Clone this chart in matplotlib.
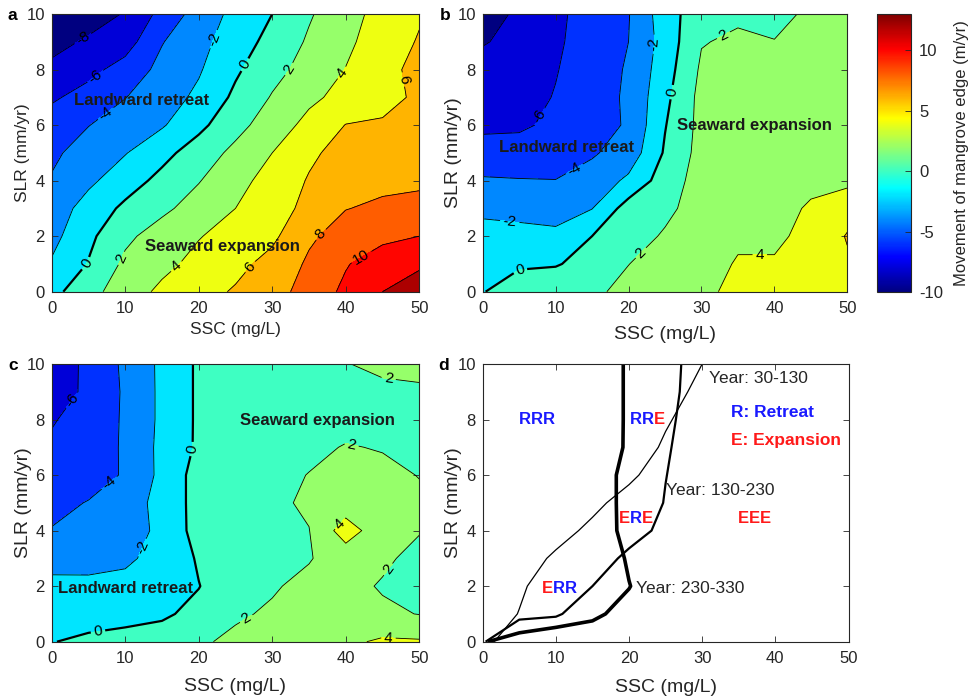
import numpy as np
import matplotlib.pyplot as plt
from matplotlib.colors import Normalize, LinearSegmentedColormap
from matplotlib.cm import ScalarMappable

plt.rcParams['font.family'] = ['Liberation Sans', 'DejaVu Sans']
plt.rcParams['axes.unicode_minus'] = False

# grid: suspended sediment concentration (mg/L) x sea-level rise rate (mm/yr)
ssc = np.arange(0, 55, 5)
slr = np.arange(0, 11, 1)

# movement of mangrove edge (m/yr); rows = SLR 0..10, columns = SSC 0..50
# a: years 30-130
move_a = np.array([
    [-0.6, 1.3, 3.05, 4.4, 5.3, 6.2, 7.3, 8.7, 10.45, 12.0, 13.0],
    [-1.8, 0.1, 2.4, 3.5, 4.55, 5.45, 6.65, 8.3, 9.85, 11.1, 11.7],
    [-2.6, -0.45, 1.6, 2.85, 3.9, 4.75, 5.6, 7.7, 8.8, 9.5, 10.0],
    [-3.1, -1.2, 0.4, 1.6, 2.8, 4.0, 5.2, 6.5, 7.95, 8.3, 8.7],
    [-3.85, -2.4, -0.9, 0.55, 1.9, 3.35, 4.75, 6.15, 7.35, 7.6, 7.6],
    [-4.35, -3.2, -2.1, -0.6, 0.95, 2.5, 4.0, 5.65, 6.7, 6.9, 7.3],
    [-5.0, -4.05, -3.1, -2.2, -0.5, 1.35, 3.0, 4.55, 6.05, 6.2, 7.0],
    [-6.3, -5.2, -4.05, -2.9, -1.6, 0.4, 2.15, 3.6, 4.6, 5.45, 6.3],
    [-7.5, -6.6, -5.2, -3.45, -2.2, -0.3, 1.35, 2.75, 4.05, 5.45, 6.5],
    [-8.7, -7.7, -6.9, -4.1, -2.6, -1.0, 0.65, 2.25, 3.6, 5.0, 6.15],
    [-10.0, -9.0, -7.85, -5.4, -3.15, -1.45, 0.0, 1.8, 3.25, 4.7, 5.8],
])

# b: years 130-230
move_b = np.array([
    [-0.05, 0.58, 1.16, 1.74, 2.38, 3.06, 3.74, 4.3, 4.5, 4.7, 5.0],
    [-0.72, -0.15, -0.13, 0.6, 1.98, 2.6, 3.5, 4.1, 4.1, 4.8, 5.7],
    [-1.45, -1.38, -1.57, 0.0, 1.2, 2.2, 3.3, 3.8, 3.8, 4.3, 6.15],
    [-2.33, -2.63, -2.8, -2.05, 0.9, 1.58, 2.8, 3.6, 3.7, 4.1, 5.1],
    [-3.8, -3.9, -3.97, -3.27, -1.6, 1.0, 2.8, 3.5, 3.6, 3.8, 3.6],
    [-5.2, -5.2, -4.7, -4.2, -3.2, 0.23, 2.7, 3.3, 3.4, 3.5, 3.6],
    [-6.4, -6.3, -5.6, -4.75, -3.8, -0.1, 2.6, 3.2, 3.3, 3.3, 3.4],
    [-6.8, -6.7, -5.9, -4.9, -3.7, -0.5, 2.6, 3.1, 3.2, 3.3, 3.3],
    [-7.5, -7.2, -6.1, -5.0, -3.8, -0.9, 2.3, 3.0, 3.0, 3.1, 3.2],
    [-8.1, -7.6, -6.3, -5.1, -4.0, -1.2, 1.9, 2.3, 2.05, 2.6, 2.8],
    [-9.0, -7.6, -6.4, -5.2, -4.1, -0.9, 1.2, 1.7, 1.5, 2.3, 2.5],
])

# c: years 230-330
move_c = np.array([
    [-0.05, 0.3, 0.5, 0.75, 1.8, 2.3, 2.8, 3.2, 3.6, 4.3, 4.2],
    [-0.78, -0.64, -0.47, -0.25, 0.45, 1.8, 2.2, 2.4, 2.5, 2.3, 1.95],
    [-1.55, -1.6, -1.5, -0.9, -0.05, 1.1, 1.85, 2.4, 2.5, 1.85, 1.6],
    [-2.65, -2.6, -2.3, -1.4, 0.2, 1.0, 1.5, 1.9, 2.8, 2.3, 1.5],
    [-3.9, -3.4, -2.8, -1.6, 0.8, 1.0, 1.5, 1.95, 5.0, 2.7, 2.1],
    [-4.6, -3.9, -2.75, -1.5, 0.8, 1.1, 1.6, 2.3, 2.8, 2.6, 2.3],
    [-5.2, -4.9, -3.8, -1.5, 0.8, 1.1, 1.5, 2.05, 2.6, 2.4, 1.95],
    [-5.8, -5.3, -3.7, -1.5, 0.3, 0.9, 1.2, 1.6, 2.1, 1.9, 1.6],
    [-6.1, -5.5, -3.7, -1.6, 0.3, 0.8, 1.0, 1.2, 1.4, 1.5, 1.6],
    [-6.5, -5.8, -3.7, -1.6, 0.3, 0.8, 1.0, 1.3, 1.5, 1.7, 1.8],
    [-6.8, -5.7, -3.6, -1.6, 0.3, 0.9, 1.2, 1.6, 1.95, 2.3, 2.4],
])

# where the contour labels sit (SSC, SLR)
labels_a = [(4.5, 9.0), (6.1, 7.7), (7.4, 6.4), (22, 9.1), (26.1, 8.2), (4.8, 1.0),
            (32.4, 8.0), (9.5, 1.2), (39.9, 7.8), (17, 0.9), (46.9, 7.6), (27.9, 0.7),
            (37.2, 1.9), (42, 1.3)]
labels_b = [(32.5, 9.5), (23.9, 8.9), (25.6, 7.2), (8.5, 6.2), (12.2, 4.6),
            (3.7, 2.5), (5.1, 0.8), (21.3, 1.5), (38, 1.3)]
labels_c = [(3.2, 8.6), (18.1, 7.0), (8.2, 5.6), (13.1, 3.3), (6.3, 0.36),
            (45.8, 9.4), (40.8, 7.1), (39, 4.3), (45.8, 2.6), (26.3, 0.9), (45.8, 0.12)]

# region notes
notes_a = [(12.2, 6.9, 'Landward retreat'), (23.2, 1.62, 'Seaward expansion')]
notes_b = [(11.45, 5.2, 'Landward retreat'), (37.3, 5.97, 'Seaward expansion')]
notes_c = [(10.0, 1.92, 'Landward retreat'), (36.2, 7.98, 'Seaward expansion')]

# panel d: R/E codes for the three periods, and curve names
codes_d = [(5.0, 8.0, 'RRR'), (20.05, 8.0, 'RRE'), (18.56, 4.42, 'ERE'),
           (34.9, 4.42, 'EEE'), (8.03, 1.92, 'ERR')]
periods_d = [(31.0, 9.48, 'Year: 30-130'), (25.0, 5.46, 'Year: 130-230'),
             (21.0, 1.92, 'Year: 230-330')]

cmin, cmax = -10, 13
fill_levels = np.arange(-12, 16, 2)
line_levels = np.arange(-8, 14, 2)
# classic MATLAB-style jet
jet = LinearSegmentedColormap.from_list('jet_m', [
    (0.0, (0, 0, 0.5)), (0.125, (0, 0, 1)), (0.375, (0, 1, 1)),
    (0.625, (1, 1, 0)), (0.875, (1, 0, 0)), (1.0, (0.5, 0, 0))], N=256)
band_colors = [jet(np.clip((lv - cmin) / (cmax - cmin), 0, 1)) for lv in fill_levels[:-1]]
txt_gray = '0.15'
code_color = {'R': '#1a1aff', 'E': '#ff1a1a'}

W, H = 973, 698
fig = plt.figure(figsize=(W / 100, H / 100), dpi=100)


def px_axes(left, top, right, bottom):
    return fig.add_axes([left / W, 1 - bottom / H, (right - left) / W, (bottom - top) / H])


def style(ax, lab_size, xpad, ypad):
    ax.set_xlim(0, 50)
    ax.set_ylim(0, 10)
    ax.set_xticks(range(0, 51, 10))
    ax.set_yticks(range(0, 11, 2))
    ax.tick_params(direction='in', top=True, right=True, length=4, width=0.6,
                   labelsize=12, labelcolor=txt_gray, color=txt_gray)
    ax.tick_params(axis='x', pad=7)
    ax.tick_params(axis='y', pad=5)
    for s in ax.spines.values():
        s.set_linewidth(0.8)
        s.set_color(txt_gray)
    ax.set_xlabel('SSC (mg/L)', fontsize=lab_size, color=txt_gray, labelpad=xpad)
    ax.set_ylabel('SLR (mm/yr)', fontsize=lab_size, color=txt_gray, labelpad=ypad)


def contour_panel(ax, z, label_pos, notes):
    ax.contourf(ssc, slr, z, levels=fill_levels, colors=band_colors)
    lws = [1.6 if lv == 0 else 0.6 for lv in line_levels]
    cs = ax.contour(ssc, slr, z, levels=line_levels, colors='k', linewidths=lws,
                    linestyles='solid')
    ax.clabel(cs, manual=label_pos, fmt='%d', fontsize=11, inline=True, inline_spacing=3)
    for x, y, s in notes:
        ax.text(x, y, s, ha='center', va='center', fontsize=12, fontweight='bold', color='0.1')


ax_a = px_axes(51.7, 14, 419.3, 291.7)
contour_panel(ax_a, move_a, labels_a, notes_a)
style(ax_a, 12.5, 4, -2.6)

ax_b = px_axes(482.7, 14, 847.3, 291.7)
contour_panel(ax_b, move_b, labels_b, notes_b)
style(ax_b, 14, 7, -3.4)

ax_c = px_axes(51.7, 364, 419.3, 641.7)
contour_panel(ax_c, move_c, labels_c, notes_c)
style(ax_c, 14, 8, -4)

# d: zero-movement boundaries of the three periods
ax_d = px_axes(482.7, 364, 848.5, 641.7)
for z, lw in [(move_a, 0.9), (move_b, 1.6), (move_c, 2.6)]:
    ax_d.contour(ssc, slr, z, levels=[0], colors='k', linewidths=lw)
for x, y, s in codes_d:
    t = ax_d.text(x, y, s[0], color=code_color[s[0]], fontsize=12, fontweight='bold',
                  ha='left', va='center')
    for ch in s[1:]:
        t = ax_d.annotate(ch, xy=(1, 0), xycoords=t, va='bottom', ha='left',
                          color=code_color[ch], fontsize=12, fontweight='bold')
for x, y, s in periods_d:
    ax_d.text(x, y, s, fontsize=12.5, color=txt_gray, ha='left', va='center')
ax_d.text(34, 8.26, 'R: Retreat', color=code_color['R'], fontsize=12.5,
          fontweight='bold', ha='left', va='center')
ax_d.text(34, 7.24, 'E: Expansion', color=code_color['E'], fontsize=12.5,
          fontweight='bold', ha='left', va='center')
style(ax_d, 14, 9, -3.4)

# colour bar shared by a-c
cax = px_axes(876.7, 14, 910.7, 292.3)
sm = ScalarMappable(norm=Normalize(cmin, cmax), cmap=jet)
cb = fig.colorbar(sm, cax=cax, ticks=[-10, -5, 0, 5, 10])
cb.outline.set_linewidth(0.8)
cb.outline.set_edgecolor(txt_gray)
cax.tick_params(direction='in', length=4, width=0.6, labelsize=12,
                labelcolor=txt_gray, color=txt_gray, pad=6)
cb.set_label('Movement of mangrove edge (m/yr)', fontsize=12, color=txt_gray, labelpad=8)

for letter, x, y in [('a', 7, 15), ('b', 440, 15), ('c', 8, 366), ('d', 438, 366)]:
    fig.text(x / W, 1 - y / H, letter, fontsize=12.5, fontweight='bold', ha='left', va='center')

fig.savefig('out.png', dpi=100)
